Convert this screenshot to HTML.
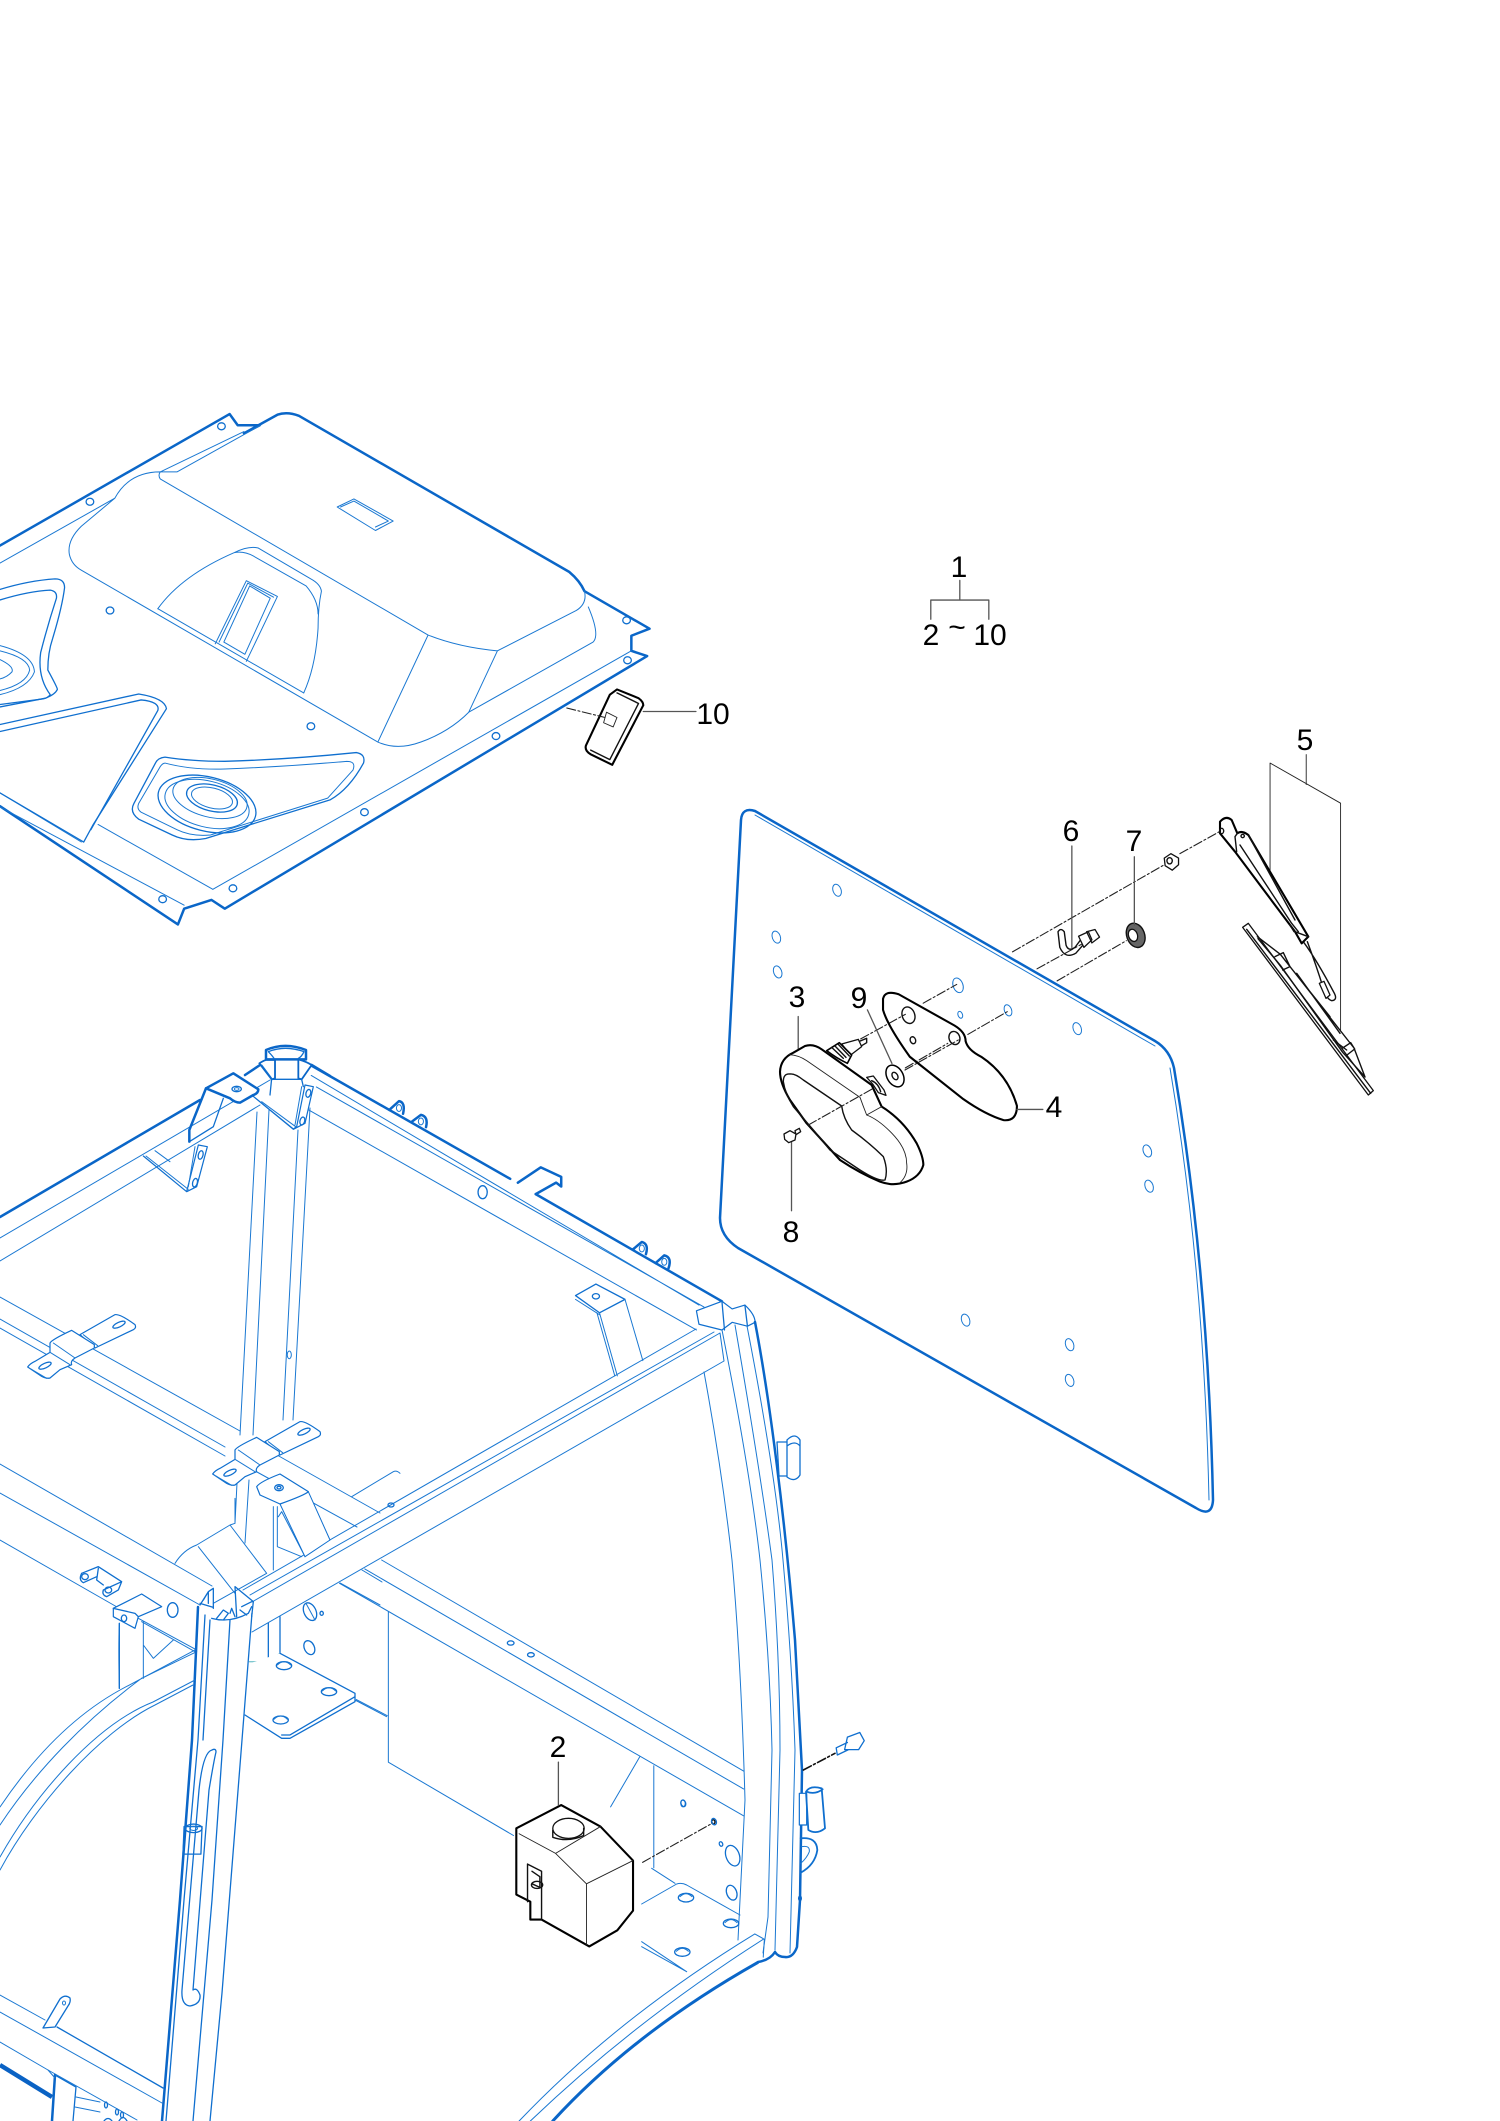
<!DOCTYPE html>
<html><head><meta charset="utf-8"><style>
html,body{margin:0;padding:0;background:#fff}
svg{display:block}
path,ellipse,circle,line,rect{vector-effect:non-scaling-stroke;stroke-linejoin:round;stroke-linecap:round}
.t{fill:none;stroke:#1a78d2;stroke-width:1}
.m{fill:none;stroke:#0f6fcf;stroke-width:1.3}
.w{fill:#fff;stroke:#0f6fcf;stroke-width:1.2}
.b{fill:none;stroke:#0a66c8;stroke-width:2.5}
.x{fill:none;stroke:#0a62c4;stroke-width:4.5;stroke-linecap:butt}
.kt{fill:none;stroke:#222;stroke-width:.9}
.km{fill:none;stroke:#111;stroke-width:1.4}
.kb{fill:#fff;stroke:#000;stroke-width:2.1}
.kw{fill:#fff;stroke:#111;stroke-width:1.3}
.l{fill:none;stroke:#555;stroke-width:1.3}
.d{fill:none;stroke:#222;stroke-width:1.1;stroke-dasharray:9 2.5 2 2.5}
text{font-family:"Liberation Sans",sans-serif;font-size:30px;fill:#000;text-anchor:middle}
</style></head><body>
<svg width="1500" height="2121" viewBox="0 0 1500 2121" xmlns="http://www.w3.org/2000/svg">
<rect width="1500" height="2121" fill="#fff"/>

<!-- ROOF PANEL -->
<g transform="translate(0,400) scale(.4783,.3508)">
<path class="b" d="M0,415 L480,40 L497,72 L543,72 L510,95 L580,42 Q600,32 625,45 L1190,490 Q1212,515 1222,545 L1358,652 L1320,672 L1320,715 L1353,730 L470,1450 L442,1425 L385,1450 L372,1495 L0,1158"/>
<path class="t" d="M0,465 L240,280 M335,205 L370,205 L545,72 M335,205 L510,90 M240,280 Q270,205 335,205 M145,440 Q140,400 170,360 L240,280 M145,440 Q150,470 170,485 L790,975 Q830,1000 880,975 Q940,945 980,890 L1240,690 Q1255,670 1230,590 M335,225 Q330,215 335,205 M335,225 L895,670 Q960,705 1040,715 L1205,600 Q1228,580 1222,545 M895,670 L790,975 M1040,715 L980,890"/>
<path class="t" d="M705,305 L740,282 L822,345 L785,372 Z M712,305 L740,288 L812,345 L785,362"/>
<path class="t" d="M330,595 Q380,500 490,435 Q520,415 540,422 L650,510 Q670,525 672,545 Q665,590 665,650 Q660,760 635,835 M490,435 Q510,430 530,445 L640,530 Q665,570 665,610"/>
<path class="t" d="M450,695 L515,515 L580,560 L515,745 M468,690 L522,530 L565,565 L512,725 Z M458,690 L518,522 L572,562"/>
<path class="t" d="M330,595 L635,835 M205,1210 L445,1395 M445,1395 L1320,715 M0,1120 L170,1260 M0,1160 L385,1440"/>
<path class="m" d="M0,540 Q60,515 115,510 Q135,510 135,535 Q130,590 110,680 Q100,720 100,770 Q120,820 120,825 Q115,840 95,850 L0,875"/>
<path class="m" d="M0,570 Q60,545 105,542 Q120,545 118,565 Q100,640 85,720 Q78,790 105,840 Q100,850 90,852 L0,868"/>
<path class="t" d="M0,715 Q60,735 62,770 Q55,810 0,828 M0,740 Q30,760 25,775 Q15,790 0,795 M0,700 Q70,725 72,775 Q60,820 0,840"/>
<path class="m" d="M0,925 L290,838 Q345,850 348,880 L195,1210 L175,1260 L0,1120"/>
<path class="m" d="M0,945 L295,855 Q335,860 330,885 L190,1225"/>
<path class="m" d="M345,1018 Q400,1030 470,1030 Q600,1025 745,1005 Q765,1010 760,1035 Q730,1110 690,1140 L430,1250 Q390,1260 360,1240 L290,1195 Q270,1175 280,1150 L325,1035 Q330,1020 345,1018 Z"/>
<path class="t" d="M345,1035 Q400,1055 470,1052 Q600,1045 725,1030 Q745,1030 738,1055 L685,1135 L440,1240 Q400,1245 370,1225 L295,1175 Q285,1165 290,1150 L335,1045 Q340,1035 345,1035 Z"/>
<ellipse class="m" cx="230" cy="600" rx="8" ry="10"/><ellipse class="m" cx="650" cy="930" rx="8" ry="10"/><ellipse class="m" cx="463" cy="75" rx="8" ry="10"/><ellipse class="m" cx="188" cy="290" rx="8" ry="10"/><ellipse class="m" cx="1310" cy="628" rx="8" ry="10"/><ellipse class="m" cx="1312" cy="742" rx="8" ry="10"/><ellipse class="m" cx="1037" cy="958" rx="8" ry="10"/><ellipse class="m" cx="762" cy="1175" rx="8" ry="10"/><ellipse class="m" cx="487" cy="1392" rx="8" ry="10"/><ellipse class="m" cx="340" cy="1423" rx="8" ry="10"/>
<!-- part 10 -->
<path class="kb" d="M1275,840 L1225,985 Q1222,1000 1235,1010 L1280,1040 L1345,870 Q1345,860 1335,850 L1290,825 Z"/>
<path class="km" d="M1290,835 L1335,865 L1275,1025 L1235,998"/>
<path class="d" d="M1185,878 L1265,905"/>
<path class="kt" d="M1268,890 L1290,905 L1282,932 L1262,920 Z"/>
<path class="l" d="M1345,888 L1455,888"/>
</g>
<ellipse class="m" cx="207" cy="804" rx="50" ry="27" transform="rotate(14 207 804)"/>
<ellipse class="t" cx="207" cy="804" rx="43" ry="23" transform="rotate(14 207 804)"/>
<ellipse class="t" cx="210" cy="798" rx="38" ry="19" transform="rotate(14 210 798)"/>
<ellipse class="m" cx="212" cy="798" rx="26" ry="13" transform="rotate(14 212 798)"/>
<ellipse class="t" cx="212" cy="798" rx="21" ry="10" transform="rotate(14 212 798)"/>
<text x="713" y="724">10</text>

<!-- GLASS -->
<path class="b" d="M741,820 Q742,807 755,811 L1155,1041 Q1170,1050 1174,1068 Q1208,1270 1213,1500 Q1212,1518 1196,1508 L738,1248 Q720,1236 720,1218 Z"/>
<path class="t" d="M755,815 L1155,1046 M1170,1068 Q1204,1270 1209,1500"/>
<g transform="translate(700,530) scale(.4464)">
<ellipse class="t" cx="307" cy="807" rx="9" ry="14" transform="rotate(-20 307 807)"/><ellipse class="t" cx="171" cy="912" rx="9" ry="14" transform="rotate(-20 171 912)"/><ellipse class="t" cx="174" cy="990" rx="9" ry="14" transform="rotate(-20 174 990)"/><ellipse class="t" cx="578" cy="1020" rx="11" ry="17" transform="rotate(-20 578 1020)"/><ellipse class="t" cx="690" cy="1076" rx="8" ry="13" transform="rotate(-20 690 1076)"/><ellipse class="t" cx="583" cy="1086" rx="5" ry="8" transform="rotate(-20 583 1086)"/><ellipse class="t" cx="845" cy="1117" rx="9" ry="14" transform="rotate(-20 845 1117)"/><ellipse class="t" cx="1002" cy="1391" rx="9" ry="14" transform="rotate(-20 1002 1391)"/><ellipse class="t" cx="1006" cy="1470" rx="9" ry="14" transform="rotate(-20 1006 1470)"/>
<ellipse class="t" cx="595" cy="1770" rx="9" ry="14" transform="rotate(-20 595 1770)"/><ellipse class="t" cx="828" cy="1825" rx="9" ry="14" transform="rotate(-20 828 1825)"/><ellipse class="t" cx="828" cy="1905" rx="9" ry="14" transform="rotate(-20 828 1905)"/>
<path class="d" d="M360,1140 L460,1085 M500,1060 L575,1018 M460,1205 L555,1150 M600,1130 L690,1078 M700,945 L1040,750 M1075,725 L1165,675 M755,983 L860,925 M800,1010 L955,920"/>
<!-- gasket 4 -->
<path class="kb" style="fill:none" d="M410,1050 Q415,1030 445,1040 L570,1110 Q595,1125 595,1145 Q600,1165 630,1180 Q690,1220 710,1290 Q710,1325 680,1322 Q640,1310 590,1275 L470,1180 Q420,1110 410,1075 Z"/>
<ellipse class="km" cx="467" cy="1087" rx="14" ry="19" transform="rotate(-20 467 1087)"/>
<ellipse class="km" cx="570" cy="1138" rx="12" ry="15" transform="rotate(-20 570 1138)"/>
<ellipse class="km" cx="477" cy="1143" rx="6" ry="8" transform="rotate(-20 477 1143)"/>
<!-- nozzle 6 -->
<path class="km" d="M802,900 L806,935 Q818,962 842,948 L862,925 M816,900 L820,930 Q825,945 840,935 L855,915 M802,900 Q808,890 816,900"/>
<path class="kw" d="M848,910 L870,900 L878,918 L860,935 Z M866,900 L885,895 L895,912 L878,925 Z"/>
<!-- grommet 7 -->
<ellipse cx="976" cy="908" rx="20" ry="28" transform="rotate(-20 976 908)" class="km" style="fill:#666"/>
<ellipse class="kw" cx="970" cy="908" rx="10" ry="14" transform="rotate(-20 970 908)"/>
<!-- nut -->
<path class="kw" d="M1040,735 L1055,725 L1072,735 L1072,750 L1058,762 L1042,752 Z"/>
<ellipse class="km" cx="1052" cy="741" rx="6" ry="7"/>
<!-- leaders -->
<path class="l" d="M517,200 V157 H647 V200 M582,113 V157"/>
<path class="kt" d="M1358,503 V570 M1277,765 V522 L1435,612 V1120"/>
<path class="l" d="M833,708 V935 M973,732 V885 M220,1090 V1165 M375,1075 L430,1195 M710,1298 H768 M205,1370 V1525"/>
</g>

<!-- wiper arm + blade (real/3) -->
<g transform="translate(1220,810) scale(.33333)">
<path class="kb" style="fill:#fff" d="M0,35 Q18,15 35,30 L52,70 Q65,60 85,75 L265,380 L245,400 L225,365 L45,125 L0,70 Z"/>
<path class="km" d="M52,70 L45,80 L50,125 M60,105 L215,340 L235,365 M210,345 L222,365 M85,75 L225,330 M225,365 L265,380"/>
<ellipse class="km" cx="5" cy="63" rx="6" ry="8"/><ellipse class="km" cx="68" cy="78" rx="5" ry="5"/>
<path class="km" d="M252,398 Q290,450 341,546 Q355,570 335,572 Q320,568 310,535 Q290,470 262,395"/>
<path class="kw" d="M298,520 L312,514 L330,555 L318,565 Z"/>
<path class="kw" d="M68,352 L85,340 L460,842 L445,855 Z"/>
<path class="km" d="M80,358 L452,850 M112,380 L181,433 L402,714 L435,801 L368,727 L181,466 L114,386 M165,440 L190,428 L210,470 L188,480 M250,520 L330,620 M230,490 L360,670 M340,690 L380,720 M368,714 L392,698 L404,717 L381,735"/>
</g>

<!-- motor 3, washer, bolt (real/3) -->
<g transform="translate(760,990) scale(.33333)">
<path class="km" d="M320,145 L296,155 L300,170 L320,158 Z"/>
<path class="kw" d="M245,162 L295,148 L305,170 L272,195 Z"/>
<path class="kb" style="stroke-width:1.6;fill:#fff" d="M200,182 L238,158 L275,195 L262,220 Q230,205 200,182 Z"/>
<path class="km" d="M215,172 L250,205 M225,168 L258,202 M235,163 L268,198"/>
<path class="kb" d="M60,245 Q62,205 100,188 L135,168 Q160,160 185,178 L335,285 L365,350 Q430,390 470,460 Q490,500 490,525 Q480,560 440,575 Q400,590 360,575 Q300,550 240,510 L140,400 L90,330 Q60,280 60,245 Z"/>
<path class="km" d="M70,275 Q70,250 90,252 Q105,250 130,270 L245,348 Q250,385 275,420 Q330,460 370,500 Q385,540 375,570 Q355,575 300,540 L210,480 L160,420 L100,350 Q75,310 70,275 Z"/>
<path class="kt" d="M88,194 Q115,195 140,212 L300,322 Q310,350 320,375 Q360,390 405,440 Q440,480 440,520 Q445,555 420,578 M320,375 L365,350"/>
<path class="kw" d="M320,262 L340,258 L372,300 L378,316 L355,308 L338,282 Z"/>
<path class="km" d="M335,272 Q355,280 362,305"/>
<ellipse class="kb" style="stroke-width:1.5" cx="405" cy="258" rx="24" ry="35" transform="rotate(-30 405 258)"/>
<ellipse class="km" cx="405" cy="258" rx="8" ry="12" transform="rotate(-30 405 258)"/>
<path class="d" d="M145,405 L340,295 M435,240 L595,150"/>
<path class="kw" d="M72,432 L90,422 L108,432 L105,450 L86,458 L74,448 Z M105,422 L118,415 L122,425 L108,434 Z"/>
</g>
<text x="959" y="577">1</text>
<text x="931" y="645">2</text>
<text x="957" y="637">~</text>
<text x="990" y="645">10</text>
<text x="1305" y="750">5</text>
<text x="1071" y="841">6</text>
<text x="1134" y="851">7</text>
<text x="797" y="1007">3</text>
<text x="859" y="1008">9</text>
<text x="1054" y="1117">4</text>
<text x="791" y="1242">8</text>

<!-- CAB FRAME rails, real coordinates -->
<path class="b" d="M0,1217 L200,1100"/>
<path class="t" d="M0,1238 L270,1080 M0,1261 L260,1105"/>
<!-- vertical rear post -->
<path class="t" d="M257,1112 L240,1435 M269,1110 L253,1435 M298,1130 L283,1420 M310,1108 L293,1420 M237,1483 L235,1523 M249,1480 L245,1543"/>
<!-- back cross rail -->
<path class="t" d="M0,1297 L240,1431 M0,1319 L225,1447 M0,1328 L225,1456 M277,1455 L380,1513 M257,1472 L357,1527 M340,1583 L380,1605 M362,1570 L382,1582"/>
<!-- front rail -->
<path class="t" d="M243,1590 L696,1329 M250,1595 L714,1332 M252,1602 L720,1333 M252,1632 L724,1361 M720,1333 L724,1361"/>
<!-- left rail -->
<path class="t" d="M0,1464 L212,1586 M0,1493 L200,1605 M0,1540 L117,1607"/>

<g transform="translate(0,1020) scale(.5102,.3827)">
<path class="b" d="M605,115 L1000,415 M1050,455 L1415,735"/>
<path class="t" d="M620,175 L1380,750 M610,145 L1370,745 M605,235 L1365,810"/>
<path class="m" d="M1128,720 L1168,690 L1225,730 L1175,765 Z"/>
<path class="t" d="M1128,730 L1175,770 M1175,765 L1210,930 M1170,765 L1205,930 M1225,730 L1260,890"/>
<ellipse class="m" cx="1168" cy="722" rx="7" ry="7"/>
<path class="b" d="M763,235 L782,212 Q795,215 790,245 M808,265 L825,248 Q840,252 835,280"/>
<path class="b" d="M1240,600 L1258,580 Q1272,585 1266,612 M1285,635 L1302,615 Q1318,620 1310,650"/>
<ellipse class="t" cx="782" cy="230" rx="5" ry="9"/><ellipse class="t" cx="825" cy="265" rx="5" ry="9"/><ellipse class="t" cx="1258" cy="597" rx="5" ry="9"/><ellipse class="t" cx="1302" cy="632" rx="5" ry="9"/>
<path class="b" d="M1015,425 L1060,385 L1100,410 V435 L1090,425 L1050,455"/>
<ellipse class="m" cx="946" cy="450" rx="9" ry="17"/>
<ellipse class="t" cx="567" cy="875" rx="4" ry="10"/>
<path class="w" d="M1365,760 L1415,735 L1435,755 L1460,745 Q1480,770 1480,790 L1465,800 L1435,790 L1415,810 L1370,795 Z"/>
<path class="m" d="M1415,735 L1420,810 M1460,745 L1465,800"/>
</g>

<!-- top corner brackets (real/3) -->
<g transform="translate(130,1030) scale(.33333)">
<path class="b" d="M345,135 L390,105 M545,105 L600,138"/>
<path class="w" d="M365,195 L490,297 L500,290 L525,165 L550,170 L525,280 L490,298 Z"/>
<path class="t" d="M395,215 L497,290 M515,170 L495,285"/>
<ellipse class="m" cx="535" cy="190" rx="7" ry="12" transform="rotate(15 535 190)"/><ellipse class="m" cx="517" cy="273" rx="7" ry="12" transform="rotate(15 517 273)"/>
<path class="m" d="M178,335 L250,290 L280,205" />
<path class="b" style="fill:#fff" d="M228,175 L310,130 L385,178 Q385,190 370,195 L330,218 Q315,218 300,205 Z"/>
<path class="b" d="M228,175 L178,300 V335"/>
<ellipse class="m" cx="320" cy="177" rx="14" ry="8"/><ellipse class="t" cx="320" cy="177" rx="7" ry="4"/>
<path class="w" d="M40,378 L170,485 L205,345 L232,350 L200,470 L170,485 Z"/>
<path class="t" d="M75,362 L120,395 M48,378 L175,478 M195,350 L175,470"/>
<ellipse class="m" cx="212" cy="375" rx="7" ry="13" transform="rotate(15 212 375)"/><ellipse class="m" cx="195" cy="458" rx="7" ry="13" transform="rotate(15 195 458)"/>
<path class="b" style="fill:#fff" d="M408,88 V60 Q465,35 528,60 V88 Z"/>
<path class="m" d="M415,65 Q465,45 522,65 Q515,80 505,85 V145 M415,65 Q430,80 435,90 V145"/>
<path class="b" style="fill:#fff;stroke-width:1.8" d="M388,100 Q400,92 408,90 L435,90 V145 L425,148 Z M505,88 Q530,95 545,105 L515,148 L505,145 Z"/>
<path class="m" d="M425,148 H515 M395,105 L425,145 L420,195 M515,148 L520,170"/>
</g>

<!-- clamp 1 (same as clamp 2, shifted) -->
<g transform="translate(-125,1293) scale(.33333)">
<path class="w" d="M615,125 L720,65 Q735,62 780,95 Q785,105 775,110 L660,165 Z"/>
<path class="w" d="M458,222 Q465,212 480,205 L525,178 V150 Q530,140 590,112 L658,155 V165 L600,195 Q585,205 590,215 L555,230 L525,255 Q515,258 500,250 Z"/>
<path class="t" d="M525,178 L585,215 M535,150 L600,195 M468,228 L515,256 M625,125 L668,158"/>
<ellipse class="m" cx="510" cy="218" rx="20" ry="7" transform="rotate(-25 510 218)"/>
<ellipse class="m" cx="732" cy="95" rx="20" ry="7" transform="rotate(-25 732 95)"/>
</g>

<!-- centre junction (real/3) -->
<g transform="translate(60,1400) scale(.33333)">
<path class="t" d="M345,490 Q370,450 410,435 L510,375 L525,370 M415,440 L525,580 M510,375 L620,520 L460,610 M525,295 V370 M640,320 V510 M875,290 L1000,215 Q1010,210 1020,220"/>
<ellipse class="m" cx="993" cy="315" rx="9" ry="6"/>
<!-- clamp 2 -->
<path class="w" d="M615,125 L720,65 Q735,62 780,95 Q785,105 775,110 L660,165 Z"/>
<path class="w" d="M458,222 Q465,212 480,205 L525,178 V150 Q530,140 590,112 L658,155 V165 L600,195 Q585,205 590,215 L555,230 L525,255 Q515,258 500,250 Z"/>
<path class="t" d="M525,178 L585,215 M535,150 L600,195 M468,228 L515,256 M625,125 L668,158"/>
<ellipse class="m" cx="510" cy="218" rx="20" ry="7" transform="rotate(-25 510 218)"/>
<ellipse class="m" cx="732" cy="95" rx="20" ry="7" transform="rotate(-25 732 95)"/>
<!-- bracket -->
<path class="t" d="M652,320 V440 L725,470 M655,350 L665,335 L735,470"/>
<path class="w" d="M660,312 L745,275 L810,420 L735,470 Z" style="stroke-width:1"/>
<path class="w" d="M590,260 Q600,245 660,222 L745,275 Q735,285 660,312 L600,285 Z"/>
<ellipse class="m" cx="657" cy="263" rx="13" ry="9"/><ellipse class="m" cx="657" cy="263" rx="6" ry="4"/>
<!-- small brackets -->
<path class="m" d="M65,520 L115,500 L185,545 L175,570 L140,590 Q125,585 130,570 L185,545 M115,505 L110,540 L130,555 M65,520 Q55,540 70,548 L110,530"/>
<ellipse class="m" cx="75" cy="530" rx="10" ry="9"/><ellipse class="m" cx="145" cy="570" rx="10" ry="9"/>
<path class="w" d="M160,625 L245,582 L305,620 L235,650 L225,685 L160,650 Z"/>
<path class="m" d="M235,650 L225,640 L160,625"/>
<ellipse class="m" cx="192" cy="655" rx="8" ry="10"/>
<ellipse class="m" cx="338" cy="630" rx="16" ry="22"/>
<!-- below -->
<path class="t" d="M178,670 Q175,740 178,865 M250,665 V835 M250,735 L280,775 L340,720 M235,655 L410,750 M245,665 L405,755 M245,835 L410,755"/>
<path class="m" d="M178,670 V865"/>
<!-- right holes -->
<ellipse class="m" cx="750" cy="635" rx="18" ry="28" transform="rotate(-25 750 635)"/>
<path class="t" d="M738,610 L765,660"/>
<ellipse class="m" cx="785" cy="640" rx="5" ry="6"/>
<ellipse class="m" cx="748" cy="743" rx="15" ry="22" transform="rotate(-25 748 743)"/>
<path class="m" d="M625,670 V785 M660,650 V760"/>
<path stroke="#7fc7cf" stroke-width="1.3" fill="none" d="M568,785 H625 L660,760"/>
<path class="w" d="M660,760 L885,880 V905 L690,1015 H665 L555,945 L570,790 Z" style="stroke:none"/>
<path class="m" d="M660,760 L885,880 V905 L690,1015 H665 L555,945 M665,1005 L690,1005 L885,890"/>
<ellipse class="m" cx="672" cy="797" rx="23" ry="12"/><path class="t" d="M652,795 Q672,775 692,795"/>
<ellipse class="m" cx="807" cy="875" rx="23" ry="12"/><path class="t" d="M787,873 Q807,853 827,873"/>
<ellipse class="m" cx="662" cy="960" rx="23" ry="12"/><path class="t" d="M642,958 Q662,938 682,958"/>
<path class="t" d="M885,900 L980,950"/>
<!-- pillar top -->
<path class="m" d="M420,615 L445,575 L460,565 V625 M420,610 L460,622 M430,600 L445,575 V610 M525,560 L580,605 L575,650 M525,560 L530,650 M545,620 L575,605 M540,630 L560,645"/>
<path class="m" d="M455,655 Q510,670 565,640 L575,620 M470,655 L490,630 L505,640 L490,660 M510,640 L515,625 L525,650"/>
</g>

<!-- FRONT PILLAR real -->
<path class="b" d="M198,1607 L192,1740 L180,1900 L162,2121"/>
<path class="m" d="M205,1615 L198,1740 L184,1900 L166,2121 M210,1620 L203,1740 M230,1620 L223,1740 L212,1900 L193,2121 M252,1613 L242,1740 L222,1993 L210,2121"/>
<path class="m" d="M212,1750 Q203,1752 199,1790 L182,1990 Q181,2005 190,2006 Q201,2004 200,1995 Q197,1987 193,1990 L209,1790 Q214,1760 216,1752 Q216,1748 212,1750 Z"/>
<!-- left arcs -->
<path class="t" d="M0,1807 C35,1755 75,1715 120,1690 L195,1650 M0,1825 C35,1772 85,1720 142,1678 M0,1857 C35,1795 95,1725 153,1702 L195,1680 M0,1870 C35,1805 100,1732 155,1705 L193,1685"/>
<!-- lower-left -->
<path class="t" d="M0,1995 L45,2020 M0,2012 L162,2103 M0,2042 L48,2070 L137,2120"/>
<path class="m" d="M57,2027 L163,2088"/>
<path class="x" d="M0,2065 L52,2097"/>
<path class="b" d="M55,2075 L52,2121"/>
<path class="m" d="M76,2087 L73,2121 M55,2075 L76,2087"/>
<path class="t" d="M76,2097 L100,2102 M75,2107 L100,2112 M48,2070 L55,2078"/>
<path class="m" d="M43,2028 L60,1999 Q65,1994 70,1998 Q71,2002 68,2006 L55,2027 Z"/>
<ellipse class="t" cx="64" cy="2003" rx="1.5" ry="2"/>
<ellipse class="m" cx="106" cy="2105" rx="1.5" ry="3"/><ellipse class="m" cx="117" cy="2112" rx="1.5" ry="3"/><ellipse class="m" cx="122" cy="2115" rx="1.5" ry="3"/>
<path class="m" d="M104,2121 Q108,2116 112,2121 M119,2121 Q123,2114 127,2121"/>

<!-- RIGHT PILLAR -->
<path class="b" d="M755,1322 C770,1400 785,1520 795,1640 L802,1770 L800,1900 L797,1947 Q793,1958 785,1957 Q778,1957 775,1952 Q770,1960 758,1962"/>
<path class="t" d="M704,1372 Q722,1470 732,1560 Q741,1660 745,1800 L738,1940 M722,1330 Q750,1470 760,1560 Q770,1660 772,1750 L768,1917 L763,1953 M735,1325 Q760,1470 772,1560 Q780,1660 780,1750 L775,1950 M747,1326 Q775,1470 783,1560 Q792,1660 795,1750 L790,1953"/>
<path class="m" d="M787,1440 Q795,1432 800,1440 V1475 Q795,1483 787,1477 Z M777,1442 H787 V1476 H779 Z M787,1446 Q795,1440 800,1446"/>

<!-- CAB LOWER -->
<g transform="translate(0,1560) scale(.5612,.3578)">
<path class="t" d="M650,25 L1325,640 M680,0 L1325,590 M605,65 L1325,715 M692,145 V565 L915,770 M690,435 L635,390 M1140,550 L1088,690 M1165,575 V860"/>
<ellipse class="t" cx="1217" cy="680" rx="4" ry="10"/><ellipse class="m" cx="910" cy="232" rx="6" ry="6"/><ellipse class="m" cx="946" cy="265" rx="6" ry="6"/>
<!-- bottom arch -->
<path class="t" d="M925,1568 Q1100,1280 1345,1045 L1362,1060 L1360,1110 M945,1568 Q1130,1290 1360,1060"/>
<path class="b" style="stroke-width:3" d="M985,1568 Q1130,1320 1350,1125"/>
<!-- clamp on pillar -->
<path class="m" d="M328,745 L360,745 L358,822 L326,822 Z"/>
<ellipse class="m" cx="345" cy="750" rx="15" ry="12"/><ellipse class="t" cx="345" cy="750" rx="7" ry="6"/>
<!-- bolt -->
<path class="m" d="M1510,495 L1532,482 L1540,505 L1530,530 L1505,530 Z M1510,510 L1490,525 L1492,545 L1512,530"/>
<!-- tank 2 -->
<path class="kb" d="M920,750 L1000,685 L1070,745 L1128,840 V980 L1100,1035 L1050,1080 L965,1005 L945,1005 V955 L920,935 Z"/>
<path class="kt" d="M925,765 L990,820 L1070,745 M990,820 L1045,905 L1128,840 M1045,905 V1075"/>
<ellipse class="kw" cx="1013" cy="750" rx="28" ry="28"/>
<path class="km" d="M985,755 V775 Q1013,790 1040,770 V750"/>
<path class="km" d="M940,850 L965,870 V1005 M940,850 V955 M948,870 L962,885 V915 L948,905"/>
<ellipse class="km" cx="957" cy="908" rx="10" ry="10"/>
<path class="d" d="M1145,845 L1270,735"/>
<ellipse class="km" cx="1271" cy="732" rx="3" ry="6"/>
<path class="l" d="M995,565 V685"/>
</g>

<!-- right lower details (real/3) -->
<g transform="translate(640,1750) scale(.33333)">
<ellipse class="m" cx="130" cy="160" rx="7" ry="10" transform="rotate(-20 130 160)"/>
<ellipse class="m" cx="222" cy="215" rx="7" ry="10" transform="rotate(-20 222 215)"/>
<ellipse class="m" cx="243" cy="282" rx="5" ry="7" transform="rotate(-20 243 282)"/>
<ellipse class="m" cx="278" cy="317" rx="20" ry="32" transform="rotate(-20 278 317)"/>
<ellipse class="m" cx="275" cy="428" rx="15" ry="23" transform="rotate(-20 275 428)"/>
<path class="t" d="M5,462 L110,402 Q125,397 140,405 L300,495 M5,575 L140,665 M5,590 L140,665 M35,355 L105,400"/>
<ellipse class="m" cx="138" cy="443" rx="23" ry="13"/><ellipse class="m" cx="273" cy="520" rx="23" ry="13"/><ellipse class="m" cx="127" cy="606" rx="23" ry="13"/>
<path class="t" d="M120,440 Q138,422 156,440 M255,518 Q273,500 291,518 M109,604 Q127,586 145,604"/>
<path class="d" d="M490,60 L585,10" style="stroke:#111;stroke-width:1.6"/>
<path class="w" d="M478,130 H500 V225 H478 Z"/>
<path class="m" style="stroke-width:1.8" d="M498,125 Q510,105 545,115 L555,235 Q530,255 505,240 Z M500,125 Q525,135 548,118"/>
<path class="m" style="stroke-width:1.8" d="M482,265 Q530,260 532,300 Q525,345 482,368"/>
<path class="t" d="M485,290 Q510,285 508,305 Q500,325 482,340"/>
<ellipse cx="480" cy="445" rx="6" ry="9" fill="#0a66c8"/>
</g>
<text x="558" y="1757">2</text>
</svg>
</body></html>
